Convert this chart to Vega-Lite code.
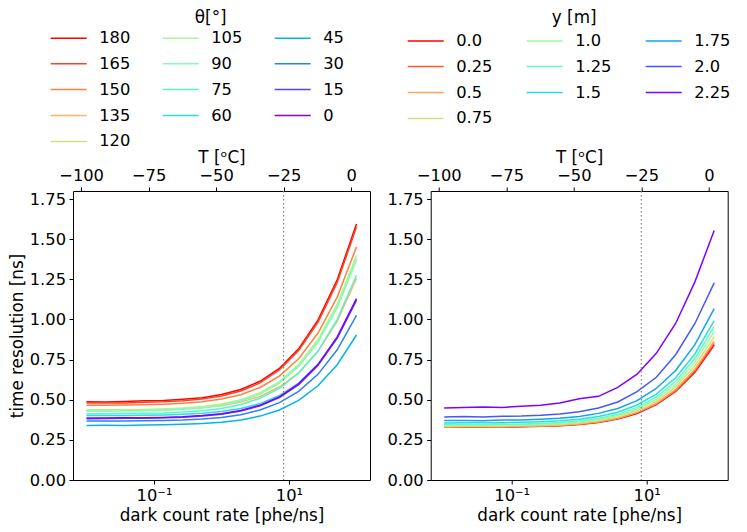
{
  "$schema": "https://vega.github.io/schema/vega-lite/v6.json",
  "padding": {"left": 8, "top": 9, "right": 10, "bottom": 6},
  "bounds": "flush",
  "spacing": 60.7,
  "config": {
    "font": "DejaVu Sans",
    "view": {"stroke": "black", "strokeWidth": 1},
    "axis": {
      "labelFont": "DejaVu Sans", "labelFontSize": 16.3, "labelColor": "black",
      "titleFont": "DejaVu Sans", "titleFontSize": 16.8, "titleFontWeight": "normal", "titleColor": "black",
      "tickColor": "black", "tickSize": 4, "tickWidth": 1, "labelPadding": 3.5,
      "domain": false, "grid": false, "labelFlush": false, "labelOverlap": false
    },
    "legend": {
      "orient": "none", "direction": "horizontal", "columns": 3, "symbolType": "stroke", "symbolSize": 1296,
      "symbolStrokeWidth": 1.5, "clipHeight": 16, "rowPadding": 8.9,
      "labelOffset": 11.5, "labelFont": "DejaVu Sans", "labelFontSize": 16.3, "labelColor": "black"
    },
    "title": {"font": "DejaVu Sans", "fontSize": 16.8, "fontWeight": "normal", "color": "black"}
  },
  "datasets": {
    "theta": [
      {"dcr":0.01,"res":0.487,"theta":"180"},{"dcr":0.01931,"res":0.486,"theta":"180"},{"dcr":0.03728,"res":0.489,"theta":"180"},{"dcr":0.07197,"res":0.493,"theta":"180"},{"dcr":0.1389,"res":0.495,"theta":"180"},{"dcr":0.2683,"res":0.503,"theta":"180"},{"dcr":0.5179,"res":0.513,"theta":"180"},{"dcr":1,"res":0.532,"theta":"180"},{"dcr":1.931,"res":0.564,"theta":"180"},{"dcr":3.728,"res":0.615,"theta":"180"},{"dcr":7.197,"res":0.695,"theta":"180"},{"dcr":13.89,"res":0.817,"theta":"180"},{"dcr":26.83,"res":0.996,"theta":"180"},{"dcr":51.79,"res":1.247,"theta":"180"},{"dcr":100,"res":1.595,"theta":"180"},
      {"dcr":0.01,"res":0.479,"theta":"165"},{"dcr":0.01931,"res":0.481,"theta":"165"},{"dcr":0.03728,"res":0.480,"theta":"165"},{"dcr":0.07197,"res":0.484,"theta":"165"},{"dcr":0.1389,"res":0.487,"theta":"165"},{"dcr":0.2683,"res":0.493,"theta":"165"},{"dcr":0.5179,"res":0.505,"theta":"165"},{"dcr":1,"res":0.523,"theta":"165"},{"dcr":1.931,"res":0.554,"theta":"165"},{"dcr":3.728,"res":0.605,"theta":"165"},{"dcr":7.197,"res":0.685,"theta":"165"},{"dcr":13.89,"res":0.806,"theta":"165"},{"dcr":26.83,"res":0.982,"theta":"165"},{"dcr":51.79,"res":1.231,"theta":"165"},{"dcr":100,"res":1.575,"theta":"165"},
      {"dcr":0.01,"res":0.466,"theta":"150"},{"dcr":0.01931,"res":0.465,"theta":"150"},{"dcr":0.03728,"res":0.467,"theta":"150"},{"dcr":0.07197,"res":0.469,"theta":"150"},{"dcr":0.1389,"res":0.472,"theta":"150"},{"dcr":0.2683,"res":0.478,"theta":"150"},{"dcr":0.5179,"res":0.488,"theta":"150"},{"dcr":1,"res":0.504,"theta":"150"},{"dcr":1.931,"res":0.531,"theta":"150"},{"dcr":3.728,"res":0.576,"theta":"150"},{"dcr":7.197,"res":0.647,"theta":"150"},{"dcr":13.89,"res":0.755,"theta":"150"},{"dcr":26.83,"res":0.914,"theta":"150"},{"dcr":51.79,"res":1.139,"theta":"150"},{"dcr":100,"res":1.452,"theta":"150"},
      {"dcr":0.01,"res":0.433,"theta":"135"},{"dcr":0.01931,"res":0.432,"theta":"135"},{"dcr":0.03728,"res":0.434,"theta":"135"},{"dcr":0.07197,"res":0.435,"theta":"135"},{"dcr":0.1389,"res":0.438,"theta":"135"},{"dcr":0.2683,"res":0.442,"theta":"135"},{"dcr":0.5179,"res":0.450,"theta":"135"},{"dcr":1,"res":0.463,"theta":"135"},{"dcr":1.931,"res":0.485,"theta":"135"},{"dcr":3.728,"res":0.521,"theta":"135"},{"dcr":7.197,"res":0.579,"theta":"135"},{"dcr":13.89,"res":0.668,"theta":"135"},{"dcr":26.83,"res":0.800,"theta":"135"},{"dcr":51.79,"res":0.990,"theta":"135"},{"dcr":100,"res":1.255,"theta":"135"},
      {"dcr":0.01,"res":0.436,"theta":"120"},{"dcr":0.01931,"res":0.437,"theta":"120"},{"dcr":0.03728,"res":0.437,"theta":"120"},{"dcr":0.07197,"res":0.439,"theta":"120"},{"dcr":0.1389,"res":0.442,"theta":"120"},{"dcr":0.2683,"res":0.448,"theta":"120"},{"dcr":0.5179,"res":0.457,"theta":"120"},{"dcr":1,"res":0.473,"theta":"120"},{"dcr":1.931,"res":0.499,"theta":"120"},{"dcr":3.728,"res":0.542,"theta":"120"},{"dcr":7.197,"res":0.610,"theta":"120"},{"dcr":13.89,"res":0.714,"theta":"120"},{"dcr":26.83,"res":0.866,"theta":"120"},{"dcr":51.79,"res":1.082,"theta":"120"},{"dcr":100,"res":1.380,"theta":"120"},
      {"dcr":0.01,"res":0.433,"theta":"105"},{"dcr":0.01931,"res":0.434,"theta":"105"},{"dcr":0.03728,"res":0.435,"theta":"105"},{"dcr":0.07197,"res":0.436,"theta":"105"},{"dcr":0.1389,"res":0.440,"theta":"105"},{"dcr":0.2683,"res":0.445,"theta":"105"},{"dcr":0.5179,"res":0.455,"theta":"105"},{"dcr":1,"res":0.471,"theta":"105"},{"dcr":1.931,"res":0.498,"theta":"105"},{"dcr":3.728,"res":0.543,"theta":"105"},{"dcr":7.197,"res":0.613,"theta":"105"},{"dcr":13.89,"res":0.720,"theta":"105"},{"dcr":26.83,"res":0.875,"theta":"105"},{"dcr":51.79,"res":1.096,"theta":"105"},{"dcr":100,"res":1.400,"theta":"105"},
      {"dcr":0.01,"res":0.429,"theta":"90"},{"dcr":0.01931,"res":0.429,"theta":"90"},{"dcr":0.03728,"res":0.430,"theta":"90"},{"dcr":0.07197,"res":0.432,"theta":"90"},{"dcr":0.1389,"res":0.435,"theta":"90"},{"dcr":0.2683,"res":0.441,"theta":"90"},{"dcr":0.5179,"res":0.450,"theta":"90"},{"dcr":1,"res":0.466,"theta":"90"},{"dcr":1.931,"res":0.492,"theta":"90"},{"dcr":3.728,"res":0.535,"theta":"90"},{"dcr":7.197,"res":0.603,"theta":"90"},{"dcr":13.89,"res":0.707,"theta":"90"},{"dcr":26.83,"res":0.858,"theta":"90"},{"dcr":51.79,"res":1.073,"theta":"90"},{"dcr":100,"res":1.370,"theta":"90"},
      {"dcr":0.01,"res":0.413,"theta":"75"},{"dcr":0.01931,"res":0.413,"theta":"75"},{"dcr":0.03728,"res":0.414,"theta":"75"},{"dcr":0.07197,"res":0.416,"theta":"75"},{"dcr":0.1389,"res":0.418,"theta":"75"},{"dcr":0.2683,"res":0.423,"theta":"75"},{"dcr":0.5179,"res":0.432,"theta":"75"},{"dcr":1,"res":0.446,"theta":"75"},{"dcr":1.931,"res":0.470,"theta":"75"},{"dcr":3.728,"res":0.509,"theta":"75"},{"dcr":7.197,"res":0.570,"theta":"75"},{"dcr":13.89,"res":0.665,"theta":"75"},{"dcr":26.83,"res":0.803,"theta":"75"},{"dcr":51.79,"res":1.001,"theta":"75"},{"dcr":100,"res":1.275,"theta":"75"},
      {"dcr":0.01,"res":0.401,"theta":"60"},{"dcr":0.01931,"res":0.401,"theta":"60"},{"dcr":0.03728,"res":0.402,"theta":"60"},{"dcr":0.07197,"res":0.403,"theta":"60"},{"dcr":0.1389,"res":0.405,"theta":"60"},{"dcr":0.2683,"res":0.409,"theta":"60"},{"dcr":0.5179,"res":0.415,"theta":"60"},{"dcr":1,"res":0.426,"theta":"60"},{"dcr":1.931,"res":0.445,"theta":"60"},{"dcr":3.728,"res":0.476,"theta":"60"},{"dcr":7.197,"res":0.526,"theta":"60"},{"dcr":13.89,"res":0.604,"theta":"60"},{"dcr":26.83,"res":0.720,"theta":"60"},{"dcr":51.79,"res":0.886,"theta":"60"},{"dcr":100,"res":1.120,"theta":"60"},
      {"dcr":0.01,"res":0.340,"theta":"45"},{"dcr":0.01931,"res":0.341,"theta":"45"},{"dcr":0.03728,"res":0.340,"theta":"45"},{"dcr":0.07197,"res":0.342,"theta":"45"},{"dcr":0.1389,"res":0.344,"theta":"45"},{"dcr":0.2683,"res":0.347,"theta":"45"},{"dcr":0.5179,"res":0.352,"theta":"45"},{"dcr":1,"res":0.360,"theta":"45"},{"dcr":1.931,"res":0.374,"theta":"45"},{"dcr":3.728,"res":0.398,"theta":"45"},{"dcr":7.197,"res":0.436,"theta":"45"},{"dcr":13.89,"res":0.496,"theta":"45"},{"dcr":26.83,"res":0.587,"theta":"45"},{"dcr":51.79,"res":0.718,"theta":"45"},{"dcr":100,"res":0.903,"theta":"45"},
      {"dcr":0.01,"res":0.367,"theta":"30"},{"dcr":0.01931,"res":0.367,"theta":"30"},{"dcr":0.03728,"res":0.368,"theta":"30"},{"dcr":0.07197,"res":0.369,"theta":"30"},{"dcr":0.1389,"res":0.371,"theta":"30"},{"dcr":0.2683,"res":0.374,"theta":"30"},{"dcr":0.5179,"res":0.380,"theta":"30"},{"dcr":1,"res":0.390,"theta":"30"},{"dcr":1.931,"res":0.407,"theta":"30"},{"dcr":3.728,"res":0.436,"theta":"30"},{"dcr":7.197,"res":0.482,"theta":"30"},{"dcr":13.89,"res":0.552,"theta":"30"},{"dcr":26.83,"res":0.658,"theta":"30"},{"dcr":51.79,"res":0.811,"theta":"30"},{"dcr":100,"res":1.025,"theta":"30"},
      {"dcr":0.01,"res":0.382,"theta":"15"},{"dcr":0.01931,"res":0.383,"theta":"15"},{"dcr":0.03728,"res":0.384,"theta":"15"},{"dcr":0.07197,"res":0.385,"theta":"15"},{"dcr":0.1389,"res":0.387,"theta":"15"},{"dcr":0.2683,"res":0.391,"theta":"15"},{"dcr":0.5179,"res":0.398,"theta":"15"},{"dcr":1,"res":0.410,"theta":"15"},{"dcr":1.931,"res":0.430,"theta":"15"},{"dcr":3.728,"res":0.462,"theta":"15"},{"dcr":7.197,"res":0.514,"theta":"15"},{"dcr":13.89,"res":0.594,"theta":"15"},{"dcr":26.83,"res":0.713,"theta":"15"},{"dcr":51.79,"res":0.883,"theta":"15"},{"dcr":100,"res":1.120,"theta":"15"},
      {"dcr":0.01,"res":0.386,"theta":"0"},{"dcr":0.01931,"res":0.386,"theta":"0"},{"dcr":0.03728,"res":0.387,"theta":"0"},{"dcr":0.07197,"res":0.388,"theta":"0"},{"dcr":0.1389,"res":0.390,"theta":"0"},{"dcr":0.2683,"res":0.394,"theta":"0"},{"dcr":0.5179,"res":0.401,"theta":"0"},{"dcr":1,"res":0.413,"theta":"0"},{"dcr":1.931,"res":0.433,"theta":"0"},{"dcr":3.728,"res":0.466,"theta":"0"},{"dcr":7.197,"res":0.518,"theta":"0"},{"dcr":13.89,"res":0.599,"theta":"0"},{"dcr":26.83,"res":0.719,"theta":"0"},{"dcr":51.79,"res":0.891,"theta":"0"},{"dcr":100,"res":1.130,"theta":"0"}
    ],
    "ypos": [
      {"dcr":0.01,"res":0.328,"y":"0.0"},{"dcr":0.01931,"res":0.329,"y":"0.0"},{"dcr":0.03728,"res":0.329,"y":"0.0"},{"dcr":0.07197,"res":0.330,"y":"0.0"},{"dcr":0.1389,"res":0.331,"y":"0.0"},{"dcr":0.2683,"res":0.334,"y":"0.0"},{"dcr":0.5179,"res":0.338,"y":"0.0"},{"dcr":1,"res":0.346,"y":"0.0"},{"dcr":1.931,"res":0.358,"y":"0.0"},{"dcr":3.728,"res":0.380,"y":"0.0"},{"dcr":7.197,"res":0.414,"y":"0.0"},{"dcr":13.89,"res":0.469,"y":"0.0"},{"dcr":26.83,"res":0.551,"y":"0.0"},{"dcr":51.79,"res":0.671,"y":"0.0"},{"dcr":100,"res":0.841,"y":"0.0"},
      {"dcr":0.01,"res":0.330,"y":"0.25"},{"dcr":0.01931,"res":0.331,"y":"0.25"},{"dcr":0.03728,"res":0.331,"y":"0.25"},{"dcr":0.07197,"res":0.332,"y":"0.25"},{"dcr":0.1389,"res":0.333,"y":"0.25"},{"dcr":0.2683,"res":0.336,"y":"0.25"},{"dcr":0.5179,"res":0.340,"y":"0.25"},{"dcr":1,"res":0.348,"y":"0.25"},{"dcr":1.931,"res":0.361,"y":"0.25"},{"dcr":3.728,"res":0.383,"y":"0.25"},{"dcr":7.197,"res":0.418,"y":"0.25"},{"dcr":13.89,"res":0.473,"y":"0.25"},{"dcr":26.83,"res":0.557,"y":"0.25"},{"dcr":51.79,"res":0.679,"y":"0.25"},{"dcr":100,"res":0.851,"y":"0.25"},
      {"dcr":0.01,"res":0.330,"y":"0.5"},{"dcr":0.01931,"res":0.331,"y":"0.5"},{"dcr":0.03728,"res":0.331,"y":"0.5"},{"dcr":0.07197,"res":0.332,"y":"0.5"},{"dcr":0.1389,"res":0.334,"y":"0.5"},{"dcr":0.2683,"res":0.336,"y":"0.5"},{"dcr":0.5179,"res":0.341,"y":"0.5"},{"dcr":1,"res":0.349,"y":"0.5"},{"dcr":1.931,"res":0.362,"y":"0.5"},{"dcr":3.728,"res":0.385,"y":"0.5"},{"dcr":7.197,"res":0.421,"y":"0.5"},{"dcr":13.89,"res":0.478,"y":"0.5"},{"dcr":26.83,"res":0.564,"y":"0.5"},{"dcr":51.79,"res":0.689,"y":"0.5"},{"dcr":100,"res":0.866,"y":"0.5"},
      {"dcr":0.01,"res":0.335,"y":"0.75"},{"dcr":0.01931,"res":0.336,"y":"0.75"},{"dcr":0.03728,"res":0.336,"y":"0.75"},{"dcr":0.07197,"res":0.337,"y":"0.75"},{"dcr":0.1389,"res":0.339,"y":"0.75"},{"dcr":0.2683,"res":0.342,"y":"0.75"},{"dcr":0.5179,"res":0.346,"y":"0.75"},{"dcr":1,"res":0.355,"y":"0.75"},{"dcr":1.931,"res":0.369,"y":"0.75"},{"dcr":3.728,"res":0.393,"y":"0.75"},{"dcr":7.197,"res":0.431,"y":"0.75"},{"dcr":13.89,"res":0.490,"y":"0.75"},{"dcr":26.83,"res":0.580,"y":"0.75"},{"dcr":51.79,"res":0.710,"y":"0.75"},{"dcr":100,"res":0.893,"y":"0.75"},
      {"dcr":0.01,"res":0.340,"y":"1.0"},{"dcr":0.01931,"res":0.341,"y":"1.0"},{"dcr":0.03728,"res":0.341,"y":"1.0"},{"dcr":0.07197,"res":0.342,"y":"1.0"},{"dcr":0.1389,"res":0.344,"y":"1.0"},{"dcr":0.2683,"res":0.347,"y":"1.0"},{"dcr":0.5179,"res":0.352,"y":"1.0"},{"dcr":1,"res":0.361,"y":"1.0"},{"dcr":1.931,"res":0.376,"y":"1.0"},{"dcr":3.728,"res":0.401,"y":"1.0"},{"dcr":7.197,"res":0.441,"y":"1.0"},{"dcr":13.89,"res":0.503,"y":"1.0"},{"dcr":26.83,"res":0.597,"y":"1.0"},{"dcr":51.79,"res":0.733,"y":"1.0"},{"dcr":100,"res":0.924,"y":"1.0"},
      {"dcr":0.01,"res":0.345,"y":"1.25"},{"dcr":0.01931,"res":0.346,"y":"1.25"},{"dcr":0.03728,"res":0.346,"y":"1.25"},{"dcr":0.07197,"res":0.347,"y":"1.25"},{"dcr":0.1389,"res":0.349,"y":"1.25"},{"dcr":0.2683,"res":0.352,"y":"1.25"},{"dcr":0.5179,"res":0.358,"y":"1.25"},{"dcr":1,"res":0.367,"y":"1.25"},{"dcr":1.931,"res":0.383,"y":"1.25"},{"dcr":3.728,"res":0.409,"y":"1.25"},{"dcr":7.197,"res":0.451,"y":"1.25"},{"dcr":13.89,"res":0.517,"y":"1.25"},{"dcr":26.83,"res":0.615,"y":"1.25"},{"dcr":51.79,"res":0.757,"y":"1.25"},{"dcr":100,"res":0.955,"y":"1.25"},
      {"dcr":0.01,"res":0.355,"y":"1.5"},{"dcr":0.01931,"res":0.356,"y":"1.5"},{"dcr":0.03728,"res":0.357,"y":"1.5"},{"dcr":0.07197,"res":0.357,"y":"1.5"},{"dcr":0.1389,"res":0.359,"y":"1.5"},{"dcr":0.2683,"res":0.363,"y":"1.5"},{"dcr":0.5179,"res":0.369,"y":"1.5"},{"dcr":1,"res":0.378,"y":"1.5"},{"dcr":1.931,"res":0.395,"y":"1.5"},{"dcr":3.728,"res":0.422,"y":"1.5"},{"dcr":7.197,"res":0.467,"y":"1.5"},{"dcr":13.89,"res":0.535,"y":"1.5"},{"dcr":26.83,"res":0.637,"y":"1.5"},{"dcr":51.79,"res":0.785,"y":"1.5"},{"dcr":100,"res":0.992,"y":"1.5"},
      {"dcr":0.01,"res":0.371,"y":"1.75"},{"dcr":0.01931,"res":0.371,"y":"1.75"},{"dcr":0.03728,"res":0.369,"y":"1.75"},{"dcr":0.07197,"res":0.373,"y":"1.75"},{"dcr":0.1389,"res":0.374,"y":"1.75"},{"dcr":0.2683,"res":0.379,"y":"1.75"},{"dcr":0.5179,"res":0.385,"y":"1.75"},{"dcr":1,"res":0.396,"y":"1.75"},{"dcr":1.931,"res":0.415,"y":"1.75"},{"dcr":3.728,"res":0.445,"y":"1.75"},{"dcr":7.197,"res":0.494,"y":"1.75"},{"dcr":13.89,"res":0.570,"y":"1.75"},{"dcr":26.83,"res":0.682,"y":"1.75"},{"dcr":51.79,"res":0.843,"y":"1.75"},{"dcr":100,"res":1.068,"y":"1.75"},
      {"dcr":0.01,"res":0.392,"y":"2.0"},{"dcr":0.01931,"res":0.395,"y":"2.0"},{"dcr":0.03728,"res":0.392,"y":"2.0"},{"dcr":0.07197,"res":0.397,"y":"2.0"},{"dcr":0.1389,"res":0.398,"y":"2.0"},{"dcr":0.2683,"res":0.403,"y":"2.0"},{"dcr":0.5179,"res":0.411,"y":"2.0"},{"dcr":1,"res":0.425,"y":"2.0"},{"dcr":1.931,"res":0.448,"y":"2.0"},{"dcr":3.728,"res":0.486,"y":"2.0"},{"dcr":7.197,"res":0.550,"y":"2.0"},{"dcr":13.89,"res":0.640,"y":"2.0"},{"dcr":26.83,"res":0.780,"y":"2.0"},{"dcr":51.79,"res":0.975,"y":"2.0"},{"dcr":100,"res":1.228,"y":"2.0"},
      {"dcr":0.01,"res":0.448,"y":"2.25"},{"dcr":0.01931,"res":0.452,"y":"2.25"},{"dcr":0.03728,"res":0.454,"y":"2.25"},{"dcr":0.07197,"res":0.452,"y":"2.25"},{"dcr":0.1389,"res":0.459,"y":"2.25"},{"dcr":0.2683,"res":0.465,"y":"2.25"},{"dcr":0.5179,"res":0.479,"y":"2.25"},{"dcr":1,"res":0.506,"y":"2.25"},{"dcr":1.931,"res":0.521,"y":"2.25"},{"dcr":3.728,"res":0.577,"y":"2.25"},{"dcr":7.197,"res":0.659,"y":"2.25"},{"dcr":13.89,"res":0.789,"y":"2.25"},{"dcr":26.83,"res":0.975,"y":"2.25"},{"dcr":51.79,"res":1.234,"y":"2.25"},{"dcr":100,"res":1.554,"y":"2.25"}
    ]
  },
  "hconcat": [
    {
      "width": 297,
      "height": 289,
      "title": {"text": "θ[°]", "anchor": "middle", "frame": "group", "dx": -10.8, "offset": 2.8},
      "layer": [
        {
          "data": {"name": "theta"},
          "mark": {"type": "line", "strokeWidth": 1.5},
          "encoding": {
            "x": {
              "field": "dcr", "type": "quantitative",
              "scale": {"type": "log", "domain": [0.00631, 158.5], "nice": false},
              "axis": {"values": [0.1, 10], "labelExpr": "datum.value < 1 ? '10⁻¹' : '10¹'", "title": "dark count rate [phe/ns]", "titlePadding": 4}
            },
            "y": {
              "field": "res", "type": "quantitative",
              "scale": {"domain": [0, 1.8], "nice": false},
              "axis": {"values": [0, 0.25, 0.5, 0.75, 1, 1.25, 1.5, 1.75], "format": ".2f", "title": "time resolution [ns]", "titlePadding": 2.8}
            },
            "color": {
              "field": "theta", "type": "nominal",
              "scale": {
                "domain": ["180", "105", "45", "165", "90", "30", "150", "75", "15", "135", "60", "0", "120"],
                "range": ["#ff0000", "#aaf69b", "#00b4ec", "#ff4221", "#80ffb4", "#2b80f6", "#ff8042", "#55f6ca", "#5542fd", "#ffb462", "#2bdddd", "#8000ff", "#d5dd80"]
              },
              "legend": {"title": null, "legendX": -23.3, "legendY": -161.2, "columnPadding": 31}
            }
          }
        },
        {
          "data": {"values": [{"T": -25}]},
          "mark": {"type": "rule", "color": "gray", "strokeWidth": 1.2, "strokeDash": [1.5, 2.5]},
          "encoding": {
            "x": {
              "field": "T", "type": "quantitative",
              "scale": {"domain": [-103, 7], "nice": false, "zero": false},
              "axis": {"orient": "top", "values": [-100, -75, -50, -25, 0], "format": "d", "title": "T [ᵒC]", "titlePadding": 1.5}
            }
          }
        }
      ],
      "resolve": {"scale": {"x": "independent"}, "axis": {"x": "independent"}}
    },
    {
      "width": 297,
      "height": 289,
      "title": {"text": "y [m]", "anchor": "middle", "frame": "group", "dx": -5, "offset": 5.7},
      "layer": [
        {
          "data": {"name": "ypos"},
          "mark": {"type": "line", "strokeWidth": 1.5},
          "encoding": {
            "x": {
              "field": "dcr", "type": "quantitative",
              "scale": {"type": "log", "domain": [0.00631, 158.5], "nice": false},
              "axis": {"values": [0.1, 10], "labelExpr": "datum.value < 1 ? '10⁻¹' : '10¹'", "title": "dark count rate [phe/ns]", "titlePadding": 4}
            },
            "y": {
              "field": "res", "type": "quantitative",
              "scale": {"domain": [0, 1.8], "nice": false},
              "axis": {"values": [0, 0.25, 0.5, 0.75, 1, 1.25, 1.5, 1.75], "format": ".2f", "title": null}
            },
            "color": {
              "field": "y", "type": "nominal",
              "scale": {
                "domain": ["0.0", "1.0", "1.75", "0.25", "1.25", "2.0", "0.5", "1.5", "2.25", "0.75"],
                "range": ["#ff0000", "#9cfba4", "#0ea4f0", "#ff572c", "#63fbc3", "#4757fb", "#ffa457", "#2bdddd", "#8000ff", "#d5dd80"]
              },
              "legend": {"title": null, "legendX": -24, "legendY": -158.3, "columnPadding": 33}
            }
          }
        },
        {
          "data": {"values": [{"T": -25}]},
          "mark": {"type": "rule", "color": "gray", "strokeWidth": 1.2, "strokeDash": [1.5, 2.5]},
          "encoding": {
            "x": {
              "field": "T", "type": "quantitative",
              "scale": {"domain": [-103, 7], "nice": false, "zero": false},
              "axis": {"orient": "top", "values": [-100, -75, -50, -25, 0], "format": "d", "title": "T [ᵒC]", "titlePadding": 1.5}
            }
          }
        }
      ],
      "resolve": {"scale": {"x": "independent"}, "axis": {"x": "independent"}}
    }
  ],
  "resolve": {"scale": {"color": "independent", "x": "independent", "y": "independent"}, "legend": {"color": "independent"}}
}
